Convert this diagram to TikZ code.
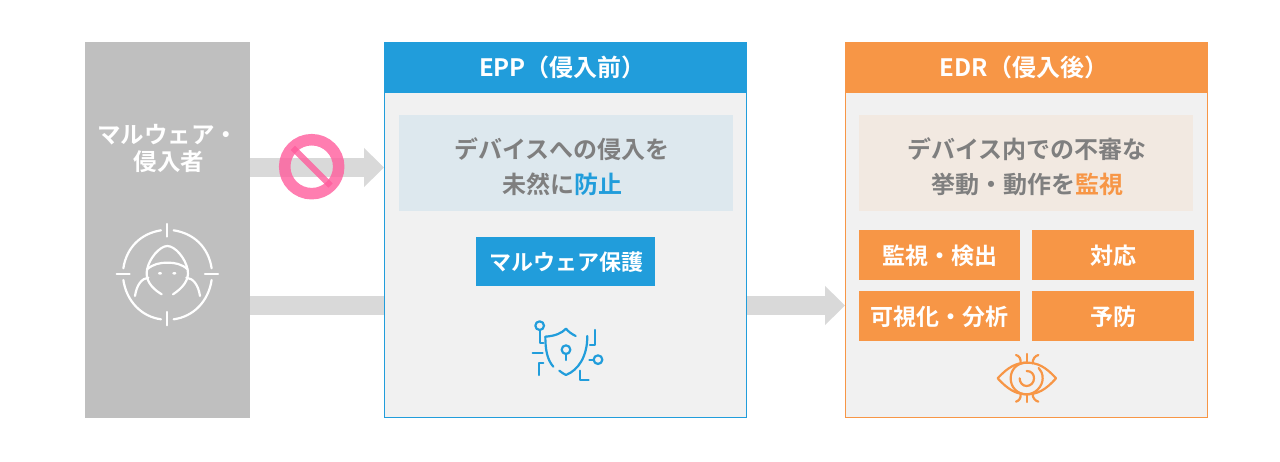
\documentclass[tikz,border=0pt]{standalone}
\usepackage{fontspec}
\setmainfont{Noto Sans CJK JP}[BoldFont={* Bold}]
\usetikzlibrary{arrows.meta}
\definecolor{eppblue}{HTML}{219DDB}
\definecolor{edrorange}{HTML}{F79646}
\definecolor{panelgray}{HTML}{F1F1F1}
\definecolor{malgray}{HTML}{BFBFBF}
\definecolor{arrowgray}{HTML}{D9D9D9}
\definecolor{textgray}{HTML}{7F7F7F}
\definecolor{bluetint}{HTML}{DDE8EE}
\definecolor{orangetint}{HTML}{F2E9E1}
\definecolor{stoppink}{HTML}{FF5C9C}
\tikzset{
  block/.style={anchor=north west,inner sep=0pt,outer sep=0pt},
  lab/.style={font=\bfseries\fontsize{24}{35}\selectfont,align=center,inner sep=0pt},
  btnlabel/.style={lab,text=white,font=\bfseries\fontsize{23}{28}\selectfont},
  titlelab/.style={lab,text=white,font=\bfseries\fontsize{24}{28}\selectfont},
  bigarrow/.style={draw=arrowgray,line width=19pt,-{Triangle[length=20pt,width=38pt]}},
  bigbar/.style={draw=arrowgray,line width=19pt},
  icon/.style={line width=#1,line cap=round,line join=round,fill=none},
  icon/.default=2.2pt
}
\begin{document}
\begin{tikzpicture}[x=1pt,y=-1pt]
\useasboundingbox (0,0) rectangle (1280,462);
% malware column
\node[block,fill=malgray,minimum width=165pt,minimum height=376pt] (mal) at (85,42) {};
\node[lab,text=white,font=\bfseries\fontsize{23.5}{27}\selectfont] (maltext) at (167.5,149) {マルウェア・\\\hspace*{3pt}侵入者};
% EPP
\node[block,fill=eppblue,minimum width=363pt,minimum height=376pt] (epp) at (384,42) {};
\node[block,fill=panelgray,minimum width=361pt,minimum height=374pt] (epppanel) at (385,43) {};
\node[block,fill=eppblue,minimum width=363pt,minimum height=51pt] (epphead) at (384,42) {};
\node[titlelab] (epptitle) at (562.5,67) {EPP（侵入前）};
\node[block,fill=bluetint,minimum width=334pt,minimum height=96pt] (eppinfo) at (399,115) {};
\node[lab,text=textgray] (epptext) at (562,167) {デバイスへの侵入を\\未然に{\color{eppblue}防止}};
\node[block,fill=eppblue,minimum width=179pt,minimum height=49pt] (eppbtn) at (476,237) {};
\node[btnlabel,font=\bfseries\fontsize{22}{28}\selectfont] (eppbtntext) at (566.5,262) {マルウェア保護};
% EDR
\node[block,fill=edrorange,minimum width=363pt,minimum height=376pt] (edr) at (845,42) {};
\node[block,fill=panelgray,minimum width=361pt,minimum height=374pt] (edrpanel) at (846,43) {};
\node[block,fill=edrorange,minimum width=363pt,minimum height=51pt] (edrhead) at (845,42) {};
\node[titlelab] (edrtitle) at (1024,67) {EDR（侵入後）};
\node[block,fill=orangetint,minimum width=334pt,minimum height=96pt] (edrinfo) at (859,115) {};
\node[lab,text=textgray] (edrtext) at (1027,167) {デバイス内での不審な\\挙動・動作を{\color{edrorange}監視}};
\node[block,fill=edrorange,minimum width=161pt,minimum height=50pt] (b1) at (859,230) {};
\node[block,fill=edrorange,minimum width=162pt,minimum height=50pt] (b2) at (1032,230) {};
\node[block,fill=edrorange,minimum width=161pt,minimum height=50pt] (b3) at (859,291) {};
\node[block,fill=edrorange,minimum width=162pt,minimum height=50pt] (b4) at (1032,291) {};
\node[btnlabel] (t1) at (940,256) {監視・検出};
\node[btnlabel] (t2) at (1113,256) {対応};
\node[btnlabel] (t3) at (939,317) {可視化・分析};
\node[btnlabel] (t4) at (1113,317) {予防};
% arrows
\coordinate (u) at (0,167.5);
\coordinate (l) at (0,305.5);
\draw[bigarrow] (mal.east |- u) -- (epp.west |- u);
\draw[bigbar] (mal.east |- l) -- (epp.west |- l);
\draw[bigarrow] (epp.east |- l) -- (edr.west |- l);
% stop sign
\draw[stoppink,opacity=.8,line width=11.5pt] (311.7,166.7) circle[radius=27pt];
\fill[stoppink,opacity=.8] (295,145.7) -- (332.7,183.4) -- (328.4,187.7) -- (290.7,150) -- cycle;
% hacker icon
\begin{scope}[shift={(85,110)},x=.3333pt,y=-.3333pt]
\draw[icon,white] (247,342)--(247,380) (247,606)--(247,646) (95,492)--(134,492) (360,492)--(399,492);
\draw[icon,white] (228,361) .. controls (170,370) and (125,410) .. (115,475);
\draw[icon,white] (266,361) .. controls (325,370) and (370,410) .. (380,475);
\draw[icon,white] (115,510) .. controls (125,575) and (170,620) .. (228,628);
\draw[icon,white] (380,510) .. controls (370,575) and (325,620) .. (266,628);
\draw[icon,white] (230,553) .. controls (200,535) and (180,510) .. (186,480) .. controls (192,445) and (225,408) .. (247,408) .. controls (270,408) and (302,445) .. (308,480) .. controls (314,510) and (292,535) .. (264,553);
\draw[icon,white] (150,558) .. controls (155,525) and (170,505) .. (190,503);
\draw[icon,white] (345,558) .. controls (340,525) and (325,505) .. (304,503);
\draw[icon,white] (186,478) .. controls (205,462) and (225,458) .. (247,458) .. controls (270,458) and (290,462) .. (308,478);
\fill[white] (225,490) ellipse[x radius=6,y radius=4] (268,490) ellipse[x radius=6,y radius=4];
\end{scope}
% shield icon
\begin{scope}[shift={(510,310)},x=.3333pt,y=-.3333pt]
\draw[icon,eppblue] (89,47) circle[radius=13];
\draw[icon,eppblue] (89,61)--(89,100)--(100,100);
\draw[icon,eppblue] (168,119) circle[radius=13];
\draw[icon,eppblue] (168,133)--(168,150);
\draw[icon,eppblue] (264,149) circle[radius=13];
\draw[icon,eppblue] (250,149)--(238,149);
\draw[icon,eppblue] (68,130)--(98,130);
\draw[icon,eppblue] (100,160)--(87,160)--(87,195);
\draw[icon,eppblue] (254,60)--(254,105)--(240,105);
\draw[icon,eppblue] (209,182)--(209,210)--(236,210);
\draw[icon,eppblue] (197,78) .. controls (185,72) and (175,65) .. (168,56) .. controls (155,70) and (135,78) .. (106,80) .. controls (106,120) and (112,150) .. (130,170);
\draw[icon,eppblue] (148,182) .. controls (155,188) and (162,192) .. (168,195) .. controls (205,180) and (232,140) .. (232,78);
\end{scope}
% eye icon
\begin{scope}[shift={(980,340)},x=.3333pt,y=-.3333pt]
\draw[icon,edrorange] (53,115) .. controls (85,80) and (110,68) .. (140,68) .. controls (172,68) and (197,80) .. (228,115) .. controls (197,150) and (172,163) .. (140,163) .. controls (110,163) and (85,150) .. (53,115) -- cycle;
\draw[icon,edrorange] (140,68) .. controls (110,68) and (92,90) .. (92,115) .. controls (92,140) and (110,163) .. (140,163) .. controls (165,163) and (188,140) .. (188,115) .. controls (188,100) and (183,92) .. (176,84);
\draw[icon,edrorange] (140,93) .. controls (155,93) and (162,103) .. (162,115) .. controls (162,128) and (152,138) .. (140,138) .. controls (128,138) and (119,128) .. (119,115);
\draw[icon,edrorange] (140,42)--(140,66) (140,166)--(140,186);
\draw[icon,edrorange] (108,45) .. controls (118,48) and (123,56) .. (122,70);
\draw[icon,edrorange] (175,45) .. controls (165,48) and (158,56) .. (158,70);
\draw[icon,edrorange] (108,185) .. controls (118,182) and (123,174) .. (122,162);
\draw[icon,edrorange] (175,185) .. controls (165,182) and (158,174) .. (158,162);
\end{scope}
\end{tikzpicture}
\end{document}
